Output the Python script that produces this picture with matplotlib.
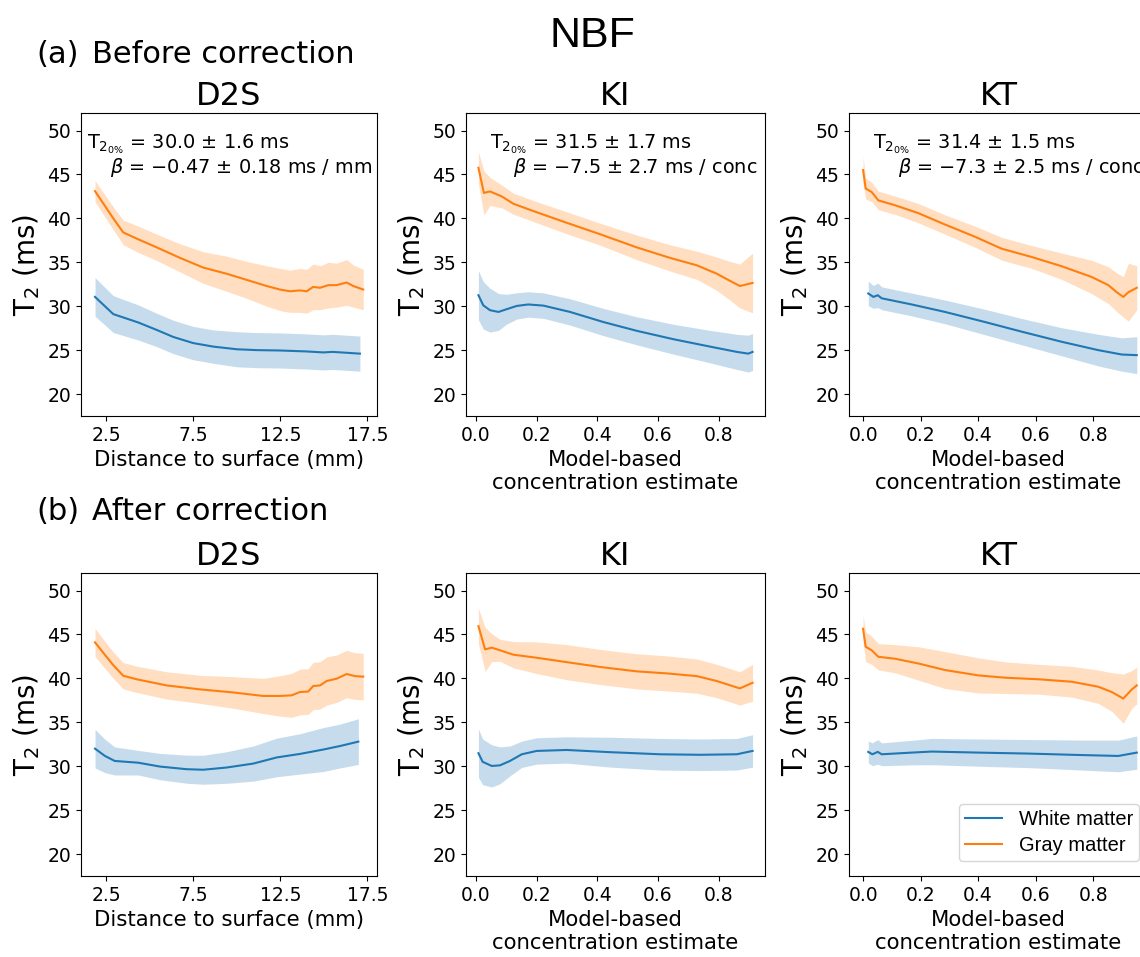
import matplotlib
matplotlib.use("Agg")
import matplotlib.pyplot as plt

# ---- data (x, mean T2, half-width of band) ----
# Before correction
d2s_b_gm_x = [1.87, 2.92, 3.49, 4.26, 5.41, 6.75, 8.08, 9.42, 10.57, 11.72, 12.48, 13.06, 13.63, 14.01, 14.39, 14.78, 15.26, 15.73, 16.31, 16.69, 17.26]
d2s_b_gm_t2 = [43.1, 40.0, 38.4, 37.7, 36.7, 35.5, 34.4, 33.7, 33.0, 32.3, 31.9, 31.7, 31.8, 31.7, 32.2, 32.1, 32.4, 32.4, 32.7, 32.3, 31.9]
d2s_b_gm_sd = [1.2, 1.3, 1.4, 1.5, 1.5, 1.6, 1.8, 2.0, 2.1, 2.3, 2.4, 2.4, 2.5, 2.5, 2.6, 2.5, 2.6, 2.5, 2.6, 2.4, 2.3]
d2s_b_wm_x = [1.87, 2.92, 4.35, 5.41, 6.36, 7.51, 8.66, 10.0, 11.15, 12.48, 14.01, 14.97, 15.5, 16.31, 17.07]
d2s_b_wm_t2 = [31.06, 29.1, 28.15, 27.3, 26.5, 25.8, 25.4, 25.1, 25.0, 24.96, 24.85, 24.74, 24.8, 24.7, 24.6]
d2s_b_wm_sd = [2.2, 2.1, 2.0, 1.9, 1.9, 1.9, 1.9, 2.0, 2.0, 2.0, 2.0, 2.0, 2.0, 2.0, 2.0]

ki_b_gm_x = [0.008, 0.026, 0.046, 0.085, 0.123, 0.2, 0.299, 0.409, 0.53, 0.64, 0.728, 0.794, 0.837, 0.87, 0.912]
ki_b_gm_t2 = [45.76, 42.9, 43.07, 42.5, 41.67, 40.7, 39.5, 38.2, 36.7, 35.5, 34.66, 33.7, 32.9, 32.3, 32.65]
ki_b_gm_sd = [1.8, 2.5, 1.6, 1.3, 1.2, 1.2, 1.25, 1.25, 1.4, 1.5, 1.6, 1.9, 2.2, 2.5, 3.4]
ki_b_wm_x = [0.008, 0.024, 0.046, 0.074, 0.101, 0.134, 0.172, 0.222, 0.31, 0.42, 0.53, 0.65, 0.772, 0.86, 0.898, 0.912]
ki_b_wm_t2 = [31.25, 30.1, 29.55, 29.35, 29.66, 30.03, 30.2, 30.07, 29.35, 28.2, 27.2, 26.25, 25.4, 24.8, 24.6, 24.8]
ki_b_wm_sd = [2.8, 2.7, 2.5, 2.1, 1.7, 1.5, 1.45, 1.45, 1.5, 1.55, 1.6, 1.7, 1.85, 2.0, 2.1, 2.1]

kt_b_gm_x = [0.0, 0.009, 0.03, 0.053, 0.111, 0.192, 0.285, 0.39, 0.482, 0.587, 0.691, 0.795, 0.853, 0.882, 0.905, 0.923, 0.952]
kt_b_gm_t2 = [45.5, 43.4, 43.0, 42.05, 41.5, 40.6, 39.3, 37.9, 36.55, 35.6, 34.55, 33.33, 32.4, 31.6, 31.06, 31.6, 32.1]
kt_b_gm_sd = [1.5, 1.2, 1.1, 1.05, 1.05, 1.1, 1.1, 1.2, 1.3, 1.3, 1.5, 1.9, 2.1, 2.2, 2.3, 3.3, 2.5]
kt_b_wm_x = [0.018, 0.036, 0.051, 0.065, 0.169, 0.285, 0.424, 0.552, 0.691, 0.818, 0.9, 0.952]
kt_b_wm_t2 = [31.45, 31.06, 31.25, 30.9, 30.2, 29.35, 28.2, 27.1, 25.95, 25.0, 24.5, 24.43]
kt_b_wm_sd = [1.4, 1.3, 1.4, 1.3, 1.3, 1.35, 1.45, 1.5, 1.6, 1.8, 1.9, 2.1]

# After correction
d2s_a_gm_x = [1.87, 2.35, 2.92, 3.49, 4.26, 5.98, 7.89, 9.8, 11.52, 12.48, 13.15, 13.63, 14.1, 14.39, 14.78, 15.16, 15.74, 16.31, 16.79, 17.26]
d2s_a_gm_t2 = [44.1, 42.9, 41.5, 40.3, 39.9, 39.2, 38.75, 38.4, 38.0, 38.0, 38.07, 38.45, 38.5, 39.13, 39.2, 39.7, 39.97, 40.5, 40.26, 40.2]
d2s_a_gm_sd = [1.6, 1.55, 1.5, 1.5, 1.5, 1.55, 1.6, 1.8, 2.0, 2.3, 2.5, 2.6, 2.6, 2.7, 2.7, 2.75, 2.7, 2.7, 2.65, 2.65]
d2s_a_wm_x = [1.87, 2.44, 3.0, 4.35, 5.6, 7.13, 8.08, 9.42, 10.95, 12.3, 13.63, 14.97, 15.93, 16.98]
d2s_a_wm_t2 = [32.0, 31.17, 30.6, 30.4, 29.96, 29.66, 29.6, 29.85, 30.3, 31.0, 31.4, 31.9, 32.3, 32.8]
d2s_a_wm_sd = [2.2, 1.9, 1.6, 1.4, 1.5, 1.6, 1.65, 1.8, 2.0, 2.2, 2.3, 2.5, 2.5, 2.6]

ki_a_gm_x = [0.008, 0.03, 0.052, 0.079, 0.123, 0.2, 0.299, 0.409, 0.53, 0.629, 0.728, 0.794, 0.87, 0.912]
ki_a_gm_t2 = [45.95, 43.3, 43.5, 43.2, 42.7, 42.35, 41.85, 41.3, 40.8, 40.57, 40.26, 39.7, 38.86, 39.5]
ki_a_gm_sd = [2.0, 2.5, 1.6, 1.25, 1.5, 1.8, 2.0, 2.0, 2.0, 2.0, 1.95, 1.9, 1.9, 2.1]
ki_a_wm_x = [0.008, 0.022, 0.052, 0.079, 0.112, 0.151, 0.2, 0.299, 0.442, 0.607, 0.739, 0.86, 0.912]
ki_a_wm_t2 = [31.48, 30.5, 30.03, 30.1, 30.6, 31.36, 31.74, 31.85, 31.6, 31.36, 31.3, 31.36, 31.74]
ki_a_wm_sd = [2.75, 2.6, 2.4, 2.1, 1.7, 1.5, 1.5, 1.5, 1.7, 1.8, 1.8, 1.8, 1.85]

kt_a_gm_x = [0.0, 0.009, 0.03, 0.053, 0.111, 0.192, 0.285, 0.401, 0.494, 0.61, 0.726, 0.818, 0.865, 0.905, 0.935, 0.952]
kt_a_gm_t2 = [45.65, 43.6, 43.2, 42.46, 42.24, 41.7, 40.95, 40.34, 40.08, 39.9, 39.62, 39.05, 38.45, 37.7, 38.75, 39.2]
kt_a_gm_sd = [1.5, 1.7, 1.6, 1.5, 1.6, 1.9, 2.1, 2.0, 1.8, 1.7, 1.75, 1.9, 2.2, 2.8, 2.15, 2.1]
kt_a_wm_x = [0.018, 0.032, 0.051, 0.065, 0.169, 0.239, 0.401, 0.575, 0.749, 0.888, 0.952]
kt_a_wm_t2 = [31.63, 31.36, 31.63, 31.36, 31.55, 31.67, 31.55, 31.44, 31.28, 31.17, 31.55]
kt_a_wm_sd = [1.25, 1.3, 1.4, 1.3, 1.4, 1.5, 1.55, 1.6, 1.7, 1.8, 1.9]

titles = ["D2S", "KI", "KT"]
stats_t2 = [r"T$_{2_{0\%}}$ = 30.0 ± 1.6 ms", r"T$_{2_{0\%}}$ = 31.5 ± 1.7 ms", r"T$_{2_{0\%}}$ = 31.4 ± 1.5 ms"]
stats_beta = [r"$\beta$ = −0.47 ± 0.18 ms / mm", r"$\beta$ = −7.5 ± 2.7 ms / conc", r"$\beta$ = −7.3 ± 2.5 ms / conc"]
d2s_ticks = [2.5, 7.5, 12.5, 17.5]
conc_ticks = [0.0, 0.2, 0.4, 0.6, 0.8]
y_ticks = [20, 25, 30, 35, 40, 45, 50]

W, H = 1140, 957
fig = plt.figure(figsize=(W / 100, H / 100), dpi=100)

col_left = [81, 466, 849]
col_width = [296, 299, 299]
row_top = [113, 573]
ax_h = 303
xlims = [(1.066, 18.05), (-0.033, 0.953), (-0.049, 0.991)]

curves = [
    [(d2s_b_wm_x, d2s_b_wm_t2, d2s_b_wm_sd, d2s_b_gm_x, d2s_b_gm_t2, d2s_b_gm_sd),
     (ki_b_wm_x, ki_b_wm_t2, ki_b_wm_sd, ki_b_gm_x, ki_b_gm_t2, ki_b_gm_sd),
     (kt_b_wm_x, kt_b_wm_t2, kt_b_wm_sd, kt_b_gm_x, kt_b_gm_t2, kt_b_gm_sd)],
    [(d2s_a_wm_x, d2s_a_wm_t2, d2s_a_wm_sd, d2s_a_gm_x, d2s_a_gm_t2, d2s_a_gm_sd),
     (ki_a_wm_x, ki_a_wm_t2, ki_a_wm_sd, ki_a_gm_x, ki_a_gm_t2, ki_a_gm_sd),
     (kt_a_wm_x, kt_a_wm_t2, kt_a_wm_sd, kt_a_gm_x, kt_a_gm_t2, kt_a_gm_sd)],
]

stat_x1 = [0.02, 0.08, 0.08]
stat_x2 = [0.098, 0.157, 0.164]

for r in range(2):
    for c in range(3):
        rect = [col_left[c] / W, 1 - (row_top[r] + ax_h) / H, col_width[c] / W, ax_h / H]
        ax = fig.add_axes(rect)
        wx, wy, ws, gx, gy, gs = curves[r][c]
        ax.fill_between(wx, [a - b for a, b in zip(wy, ws)], [a + b for a, b in zip(wy, ws)],
                        color="C0", alpha=0.25, lw=0)
        ax.fill_between(gx, [a - b for a, b in zip(gy, gs)], [a + b for a, b in zip(gy, gs)],
                        color="C1", alpha=0.25, lw=0)
        ax.plot(wx, wy, color="C0", lw=1.5, label="White matter")
        ax.plot(gx, gy, color="C1", lw=1.5, label="Gray matter")
        ax.set_xlim(*xlims[c])
        ax.set_ylim(17.5, 52)
        ax.set_yticks(y_ticks)
        if c == 0:
            ax.set_xticks(d2s_ticks)
            ax.set_xlabel("Distance to surface (mm)", fontsize=15.3)
        else:
            ax.set_xticks(conc_ticks)
            ax.set_xlabel("Model-based\nconcentration estimate", fontsize=15.3)
        ax.tick_params(labelsize=13.5)
        ax.set_ylabel("T$_2$ (ms)", fontsize=20)
        ax.set_title(titles[c], fontsize=23)
        if r == 0:
            # the KT stats run past the right edge of the figure, as in the original
            ax.text(stat_x1[c], 0.8835, stats_t2[c], transform=ax.transAxes,
                    fontsize=13.9, va="baseline", ha="left")
            ax.text(stat_x2[c], 0.801, stats_beta[c], transform=ax.transAxes,
                    fontsize=13.9, va="baseline", ha="left")
        if r == 1 and c == 2:
            ax.legend(loc="lower right", bbox_to_anchor=(1139 / W, 1 - 861 / H),
                      bbox_transform=fig.transFigure, borderaxespad=0,
                      borderpad=0.3, labelspacing=0.35, handlelength=1.84,
                      handletextpad=0.83,
                      prop={"family": "Liberation Sans", "size": 14.5})

fig.text(592.5 / W, 1 - 46.7 / H, "NBF", fontsize=31, family="Liberation Sans",
         ha="center", va="baseline")
fig.text(36 / W, 1 - 63 / H, "(a)", fontsize=22, ha="left", va="baseline")
fig.text(92 / W, 1 - 63 / H, "Before correction", fontsize=22, ha="left", va="baseline")
fig.text(36 / W, 1 - 520 / H, "(b)", fontsize=22, ha="left", va="baseline")
fig.text(92 / W, 1 - 520 / H, "After correction", fontsize=22, ha="left", va="baseline")

fig.savefig("out.png", dpi=100)
